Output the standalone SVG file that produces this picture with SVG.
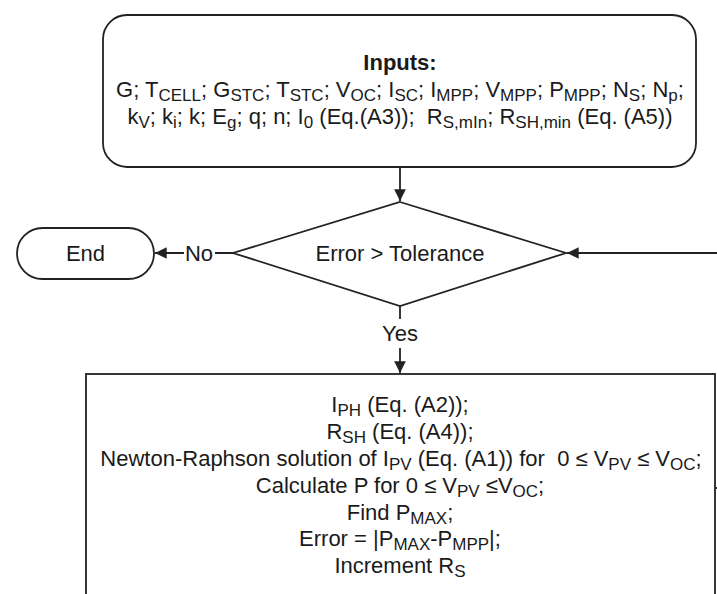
<svg xmlns="http://www.w3.org/2000/svg" width="717" height="594" viewBox="0 0 717 594">
<defs>
<style>
.shape{fill:#fff;stroke:#222;stroke-width:1.8}
.conn{fill:none;stroke:#222;stroke-width:1.8}
text{font-family:"Liberation Sans",Arial,sans-serif;font-size:22px;fill:#1a1a1a;text-anchor:middle}
.b{font-weight:bold}
.s{font-size:17px}
</style>
<marker id="arr" viewBox="0 0 10 10" refX="10" refY="5" markerWidth="6.5" markerHeight="6.5" orient="auto" markerUnits="strokeWidth">
<path d="M0,0 L10,5 L0,10 z" fill="#222"/>
</marker>
</defs>
<rect width="717" height="594" fill="#fff"/>
<g id="inputs">
<rect class="shape" x="103" y="15" width="593" height="152" rx="24"/>
<text class="b" x="400" y="70">Inputs:</text>
<text x="400" y="97">G; T<tspan class="s" dy="4">CELL</tspan><tspan dy="-4">; G</tspan><tspan class="s" dy="4">STC</tspan><tspan dy="-4">; T</tspan><tspan class="s" dy="4">STC</tspan><tspan dy="-4">; V</tspan><tspan class="s" dy="4">OC</tspan><tspan dy="-4">; I</tspan><tspan class="s" dy="4">SC</tspan><tspan dy="-4">; I</tspan><tspan class="s" dy="4">MPP</tspan><tspan dy="-4">; V</tspan><tspan class="s" dy="4">MPP</tspan><tspan dy="-4">; P</tspan><tspan class="s" dy="4">MPP</tspan><tspan dy="-4">; N</tspan><tspan class="s" dy="4">S</tspan><tspan dy="-4">; N</tspan><tspan class="s" dy="4">p</tspan><tspan dy="-4">;</tspan></text>
<text x="400" y="124">k<tspan class="s" dy="4">V</tspan><tspan dy="-4">; k</tspan><tspan class="s" dy="4">i</tspan><tspan dy="-4">; k; E</tspan><tspan class="s" dy="4">g</tspan><tspan dy="-4">; q; n; I</tspan><tspan class="s" dy="4">0</tspan><tspan dy="-4" xml:space="preserve"> (Eq.(A3));  R</tspan><tspan class="s" dy="4">S,mIn</tspan><tspan dy="-4">; R</tspan><tspan class="s" dy="4">SH,min</tspan><tspan dy="-4"> (Eq. (A5))</tspan></text>
</g>
<g id="decision">
<polygon class="shape" points="400,202 566,253 400,306 233,253"/>
<text x="400" y="261">Error &gt; Tolerance</text>
</g>
<g id="end">
<rect class="shape" x="17" y="228" width="137" height="51" rx="25.5"/>
<text x="85.5" y="261">End</text>
</g>
<g id="process">
<rect class="shape" x="86" y="374" width="629" height="240"/>
<text x="400" y="412">I<tspan class="s" dy="4">PH</tspan><tspan dy="-4"> (Eq. (A2));</tspan></text>
<text x="400" y="439">R<tspan class="s" dy="4">SH</tspan><tspan dy="-4"> (Eq. (A4));</tspan></text>
<text x="401" y="466" xml:space="preserve">Newton-Raphson solution of I<tspan class="s" dy="4">PV</tspan><tspan dy="-4"> (Eq. (A1)) for  0 ≤ V</tspan><tspan class="s" dy="4">PV</tspan><tspan dy="-4"> ≤ V</tspan><tspan class="s" dy="4">OC</tspan><tspan dy="-4">;</tspan></text>
<text x="400" y="493">Calculate P for 0 ≤ V<tspan class="s" dy="4">PV</tspan><tspan dy="-4"> ≤V</tspan><tspan class="s" dy="4">OC</tspan><tspan dy="-4">;</tspan></text>
<text x="400" y="520">Find P<tspan class="s" dy="4">MAX</tspan><tspan dy="-4">;</tspan></text>
<text x="400" y="546">Error = |P<tspan class="s" dy="4">MAX</tspan><tspan dy="-4">-P</tspan><tspan class="s" dy="4">MPP</tspan><tspan dy="-4">|;</tspan></text>
<text x="400" y="573">Increment R<tspan class="s" dy="4">S</tspan></text>
</g>
<g id="connectors">
<path class="conn" d="M400,167 V201" marker-end="url(#arr)"/>
<path class="conn" d="M233,253 H215 M184,253 H155" marker-end="url(#arr)"/>
<text x="199" y="261">No</text>
<path class="conn" d="M717,253 H567" marker-end="url(#arr)"/>
<path class="conn" d="M400,306 V319 M400,348 V373" marker-end="url(#arr)"/>
<text x="400" y="341">Yes</text>
<path class="conn" d="M715,488 H717"/>
</g>
</svg>
